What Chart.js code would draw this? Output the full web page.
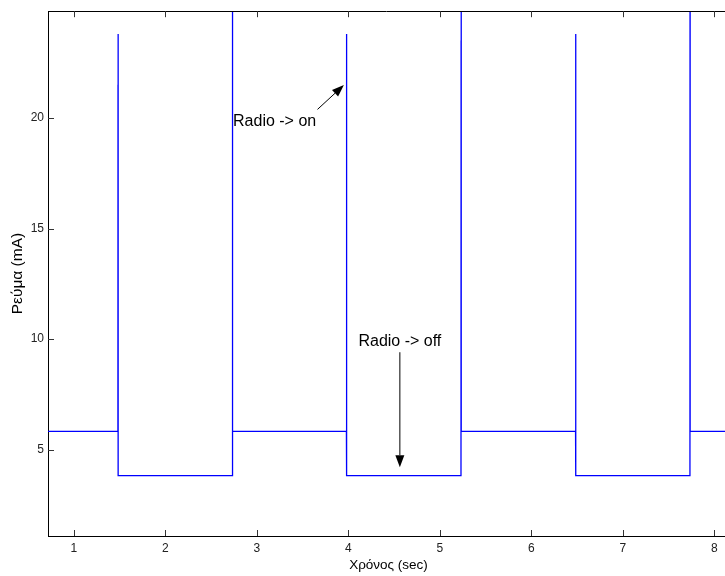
<!DOCTYPE html>
<html>
<head>
<meta charset="utf-8">
<script src="https://cdn.jsdelivr.net/npm/chart.js@4/dist/chart.umd.min.js"></script>
<style>
  html, body { margin: 0; padding: 0; background: #ffffff; }
  #wrap { width: 725px; height: 576px; position: relative; }
</style>
</head>
<body>
<div id="wrap"><canvas id="c" width="725" height="576"></canvas></div>
<script>
// ---- data ----
const times = [
  0.70, 1.483, 1.484, 1.485, 1.486,
  2.734, 2.735, 2.736,
  3.980, 3.981, 3.982, 3.983,
  5.232, 5.233, 5.234, 5.235,
  6.484, 6.485, 6.486, 6.487,
  7.734, 7.735, 7.736,
  8.20
];
const current = [
  5.83, 5.83, 21.5, 23.8, 3.83,
  3.83, 26.0, 5.83,
  5.83, 21.5, 23.8, 3.83,
  3.83, 23.5, 26.0, 5.83,
  5.83, 21.5, 23.8, 3.83,
  3.83, 26.0, 5.83,
  5.83
];
const xTicks = [1, 2, 3, 4, 5, 6, 7, 8];
const yTicks = [5, 10, 15, 20];
const xRange = [0.719, 8.117];
const yRange = [1.10, 24.83];
const xTitle = 'Χρόνος (sec)';
const yTitle = 'Ρεύμα (mA)';
// annotations: [text, x, y] and arrows [x0, y0, x1, y1] in data units
const noteOn = { text: 'Radio -> on', x: 2.741, y: 19.86, align: 'left' };
const arrowOn = [3.664, 20.39, 3.952, 21.49];
const noteOff = { text: 'Radio -> off', x: 4.564, y: 9.89, align: 'center' };
const arrowOff = [4.564, 9.41, 4.564, 4.21];

const FONT = '"Liberation Sans", Arial, Helvetica, sans-serif';

const points = times.map((t, i) => ({ x: t, y: current[i] }));

const decor = {
  id: 'decor',
  afterDatasetsDraw(chart) {
    const ctx = chart.ctx;
    const a = chart.chartArea;
    const xs = chart.scales.x, ys = chart.scales.y;
    ctx.save();
    // top border
    ctx.strokeStyle = '#000';
    ctx.lineWidth = 1;
    ctx.beginPath();
    ctx.moveTo(a.left, Math.round(a.top) + 0.5);
    ctx.lineTo(a.right, Math.round(a.top) + 0.5);
    ctx.stroke();
    // inward ticks
    ctx.strokeStyle = '#333';
    ctx.beginPath();
    xTicks.forEach(v => {
      const px = Math.round(xs.getPixelForValue(v)) + 0.5;
      ctx.moveTo(px, a.bottom); ctx.lineTo(px, a.bottom - 6);
      ctx.moveTo(px, a.top); ctx.lineTo(px, a.top + 6);
    });
    yTicks.forEach(v => {
      const py = Math.round(ys.getPixelForValue(v)) + 0.5;
      ctx.moveTo(a.left, py); ctx.lineTo(a.left + 6, py);
    });
    ctx.stroke();

    // annotations
    ctx.fillStyle = '#000';
    ctx.font = '16px ' + FONT;
    ctx.textBaseline = 'middle';
    [noteOn, noteOff].forEach(n => {
      ctx.textAlign = n.align;
      ctx.fillText(n.text, xs.getPixelForValue(n.x), ys.getPixelForValue(n.y));
    });
    const drawArrow = (arr) => {
      const x0 = xs.getPixelForValue(arr[0]), y0 = ys.getPixelForValue(arr[1]);
      const x1 = xs.getPixelForValue(arr[2]), y1 = ys.getPixelForValue(arr[3]);
      const ang = Math.atan2(y1 - y0, x1 - x0);
      const L = 12, W = 4.5;
      const bx = x1 - L * Math.cos(ang), by = y1 - L * Math.sin(ang);
      ctx.strokeStyle = '#000';
      ctx.lineWidth = 1;
      ctx.beginPath();
      ctx.moveTo(x0, y0); ctx.lineTo(bx, by);
      ctx.stroke();
      ctx.beginPath();
      ctx.moveTo(x1, y1);
      ctx.lineTo(bx + W * Math.sin(ang), by - W * Math.cos(ang));
      ctx.lineTo(bx - W * Math.sin(ang), by + W * Math.cos(ang));
      ctx.closePath();
      ctx.fill();
    };
    drawArrow(arrowOn);
    drawArrow(arrowOff);

    // axis titles
    ctx.fillStyle = '#000';
    ctx.font = '13.5px ' + FONT;
    ctx.textAlign = 'center';
    ctx.textBaseline = 'middle';
    ctx.fillText(xTitle, (a.left + a.right) / 2 + 2, 565);
    ctx.save();
    ctx.font = '15.5px ' + FONT;
    ctx.translate(18, (a.top + a.bottom) / 2);
    ctx.rotate(-Math.PI / 2);
    ctx.fillText(yTitle, 0, 0);
    ctx.restore();
    ctx.restore();
  }
};

new Chart(document.getElementById('c'), {
  type: 'line',
  data: {
    datasets: [{
      data: points,
      borderColor: '#0000ff',
      borderWidth: 1.3,
      pointRadius: 0,
      tension: 0,
      fill: false
    }]
  },
  options: {
    responsive: false,
    animation: false,
    events: [],
    layout: { padding: { top: 10, right: 0, left: 0, bottom: 0 } },
    plugins: { legend: { display: false }, tooltip: { enabled: false } },
    scales: {
      x: {
        type: 'linear',
        min: xRange[0], max: xRange[1],
        afterBuildTicks: s => { s.ticks = xTicks.map(v => ({ value: v })); },
        afterFit: s => { s.height = 40; },
        grid: { display: false, drawTicks: false },
        border: { display: true, color: '#000', width: 1 },
        ticks: { padding: 5, color: '#222', font: { family: FONT, size: 12 }, maxRotation: 0 }
      },
      y: {
        type: 'linear',
        min: yRange[0], max: yRange[1],
        afterBuildTicks: s => { s.ticks = yTicks.map(v => ({ value: v })); },
        afterFit: s => { s.width = 48; },
        grid: { display: false, drawTicks: false },
        border: { display: true, color: '#000', width: 1 },
        ticks: { padding: 4, color: '#222', font: { family: FONT, size: 12 } }
      }
    }
  },
  plugins: [decor]
});
</script>
</body>
</html>
